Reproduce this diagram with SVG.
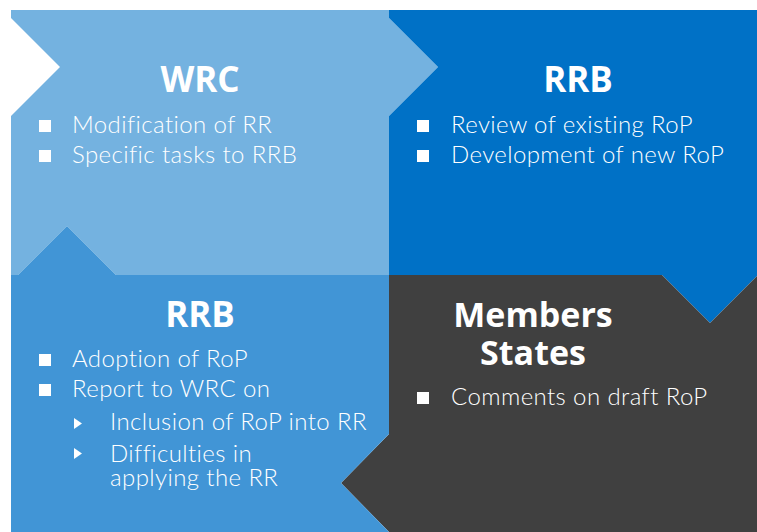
<svg xmlns="http://www.w3.org/2000/svg" width="757" height="532" viewBox="0 0 757 532">
<style>
.title{font-family:"Open Sans","Liberation Sans",sans-serif;font-weight:700;font-size:35px;fill:#fff;text-anchor:middle}
.body{font-family:Lato,"Open Sans","Liberation Sans",sans-serif;font-weight:300;font-size:24px;letter-spacing:0.4px;fill:#fff}
.sq{fill:#fff}
</style>
<rect width="757" height="532" fill="#fff"/>
<g id="wrc">
<polygon points="11,10 389,10 389,18 438,67 389,116 389,275 116,275 67,226 18,275 11,275 11,116 60,67 11,18" fill="#74B2E0"/>
<text class="title" x="200" y="92">WRC</text>
<rect class="sq" x="39" y="120" width="12" height="12"/>
<text class="body" x="72" y="133">Modification of RR</text>
<rect class="sq" x="39" y="150" width="12" height="12"/>
<text class="body" x="72" y="163">Specific tasks to RRB</text>
</g>
<g id="rrb-top">
<polygon points="389,10 757,10 757,276 710,323 662,275 389,275 389,116 438,67 389,18" fill="#0071C6"/>
<text class="title" x="578" y="92">RRB</text>
<rect class="sq" x="417" y="120" width="12" height="12"/>
<text class="body" x="451" y="133">Review of existing RoP</text>
<rect class="sq" x="417" y="150" width="12" height="12"/>
<text class="body" x="451" y="163">Development of new RoP</text>
</g>
<g id="members-states">
<polygon points="389,275 662,275 710,323 757,276 757,532 389,532 341,483 389,434" fill="#404040"/>
<text class="title" x="533" y="327" style="font-size:34px">Members</text>
<text class="title" x="533" y="365" style="font-size:34px">States</text>
<rect class="sq" x="417" y="392" width="12" height="12"/>
<text class="body" x="451" y="405">Comments on draft RoP</text>
</g>
<g id="rrb-bottom">
<polygon points="11,275 18,275 67,226 116,275 389,275 389,434 341,483 389,532 11,532" fill="#4195D6"/>
<text class="title" x="200" y="327">RRB</text>
<rect class="sq" x="39" y="354" width="12" height="12"/>
<text class="body" x="72" y="367">Adoption of RoP</text>
<rect class="sq" x="39" y="384" width="12" height="12"/>
<text class="body" x="72" y="397">Report to WRC on</text>
<polygon class="sq" points="74,418 82,423.5 74,429"/>
<text class="body" x="110" y="430">Inclusion of RoP into RR</text>
<polygon class="sq" points="74,448 82,453.5 74,459"/>
<text class="body" x="110" y="462">Difficulties in</text>
<text class="body" x="110" y="486">applying the RR</text>
</g>
<g id="connectors"/>
</svg>
